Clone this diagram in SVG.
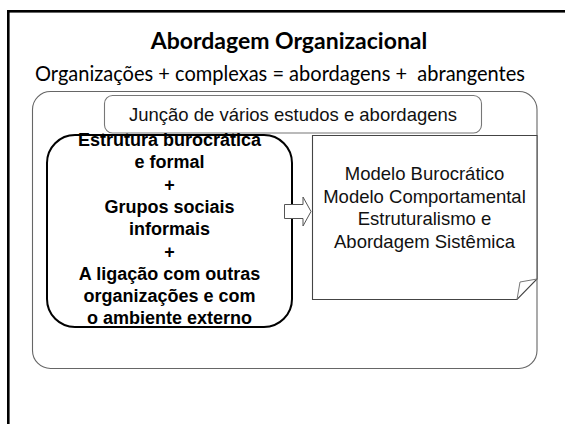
<svg xmlns="http://www.w3.org/2000/svg" width="565" height="424" viewBox="0 0 565 424">
<style>
.t{font-family:"Liberation Sans",Arial,sans-serif;fill:#000;text-anchor:middle}
.b{font-weight:bold;font-size:18px}
.r{font-size:18.5px;fill:#111}
.h{font-family:Lato,"Open Sans",sans-serif;text-anchor:middle;fill:#000}
</style>
<rect width="565" height="424" fill="#fff"/>
<rect x="8.3" y="11.3" width="600" height="500" fill="none" stroke="#000" stroke-width="2.6"/>
<text class="h" x="289" y="49" font-size="23" font-weight="bold">Abordagem Organizacional</text>
<text class="h" x="280" y="81" font-size="21.5" textLength="490" lengthAdjust="spacingAndGlyphs" xml:space="preserve">Organizações + complexas = abordagens +  abrangentes</text>
<g id="frame">
<rect x="32.5" y="91.5" width="504.5" height="277" rx="18" fill="none" stroke="#666" stroke-width="1.1"/>
</g>
<g id="juncao">
<rect x="104.5" y="95.5" width="377" height="37.5" rx="8" fill="#fff" stroke="#777" stroke-width="1.1"/>
<text class="t r" x="293" y="121">Junção de vários estudos e abordagens</text>
</g>
<g id="doc">
<path d="M312.5,135.5 H537 V279 L517,299.5 H312.5 Z" fill="#fff" stroke="#444" stroke-width="1.1"/>
<path d="M517,299.5 L520,282 L537,279" fill="none" stroke="#777" stroke-width="1"/>
<text class="t r"><tspan x="424.5" y="180">Modelo Burocrático</tspan><tspan x="424.5" y="202.5">Modelo Comportamental</tspan><tspan x="424.5" y="225">Estruturalismo e</tspan><tspan x="424.5" y="247.5">Abordagem Sistêmica</tspan></text>
</g>
<g id="estrutura">
<rect x="47" y="135" width="245" height="192" rx="28" fill="#fff" stroke="#000" stroke-width="2"/>
<text class="t b"><tspan x="169.5" y="146">Estrutura burocrática</tspan><tspan x="169.5" y="168.3">e formal</tspan><tspan x="169.5" y="190.6">+</tspan><tspan x="169.5" y="212.9">Grupos sociais</tspan><tspan x="169.5" y="235.2">informais</tspan><tspan x="169.5" y="257.5">+</tspan><tspan x="169.5" y="279.8">A ligação com outras</tspan><tspan x="169.5" y="302.1">organizações e com</tspan><tspan x="169.5" y="324.4">o ambiente externo</tspan></text>
</g>
<g id="connectors">
<polygon points="284.5,204.5 303,204.5 303,197 311,211.5 303,226 303,218.5 284.5,218.5" fill="#fff" stroke="#555" stroke-width="1"/>
</g>
</svg>
